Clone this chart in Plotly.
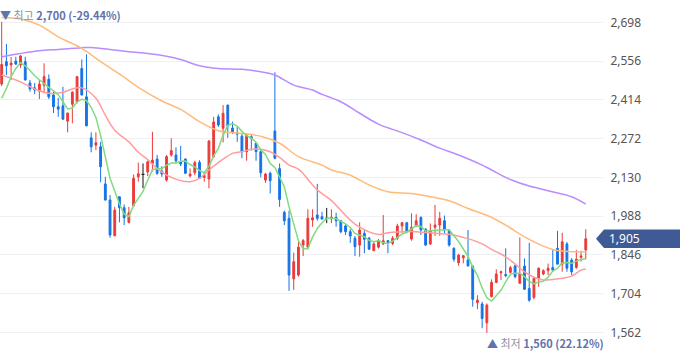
import plotly.graph_objects as go
import pandas as pd

# ---------------- data ----------------
opens = [2472, 2554, 2542, 2556, 2542, 2554, 2476, 2458, 2446, 2468,
         2490, 2432, 2389, 2392, 2336, 2398, 2407, 2529, 2425, 2275,
         2248, 2242, 2106, 2047, 1916, 2059, 2019, 1965, 2026, 2132,
         2141, 2150, 2181, 2197, 2153, 2120, 2212, 2212, 2186, 2197,
         2135, 2147, 2185, 2130, 2124, 2206, 2352, 2310, 2395, 2311,
         2293, 2281, 2224, 2279, 2255, 2224, 2120, 2145, 2300, 2162,
         2002, 1980, 1758, 1772, 1882, 1874, 1974, 1992, 1986, 1980,
         1978, 1983, 1971, 1952, 1931, 1907, 1882, 1925, 1907, 1861,
         1874, 1886, 1898, 1888, 1907, 1952, 1964, 1904, 1952, 1983,
         1940, 1886, 1947, 1955, 1971, 1934, 1870, 1817, 1835, 1827,
         1805, 1671, 1666, 1597, 1693, 1745, 1780, 1774, 1782, 1806,
         1742, 1805, 1723, 1690, 1760, 1776, 1788, 1800, 1870, 1812,
         1886, 1827, 1800, 1837, 1864]
highs = [2700, 2619, 2571, 2572, 2578, 2572, 2487, 2476, 2487, 2548,
         2507, 2446, 2421, 2462, 2366, 2446, 2502, 2562, 2581, 2295,
         2295, 2260, 2132, 2065, 2022, 2060, 2031, 2022, 2141, 2184,
         2181, 2191, 2297, 2212, 2171, 2212, 2273, 2240, 2245, 2200,
         2163, 2191, 2193, 2147, 2267, 2352, 2361, 2395, 2396, 2334,
         2315, 2289, 2289, 2289, 2257, 2233, 2147, 2151, 2515, 2181,
         2008, 2008, 1854, 1894, 1904, 2013, 2013, 2106, 2004, 2018,
         2013, 2000, 1974, 1958, 1940, 1915, 1965, 1937, 1912, 1893,
         1904, 1992, 1900, 1915, 1960, 1967, 1967, 1998, 1995, 1987,
         1944, 1961, 2029, 2004, 1990, 1940, 1874, 1850, 1845, 1937,
         1805, 1698, 1674, 1668, 1756, 1793, 1788, 1870, 1805, 1810,
         1910, 1833, 1890, 1764, 1800, 1793, 1814, 1864, 1934, 1927,
         1893, 1834, 1864, 1861, 1940]
lows = [2465, 2505, 2487, 2542, 2531, 2485, 2444, 2435, 2417, 2439,
        2417, 2366, 2352, 2342, 2295, 2328, 2401, 2430, 2317, 2222,
        2230, 2112, 2045, 1909, 1914, 1965, 1955, 1961, 2024, 2114,
        2090, 2135, 2151, 2139, 2132, 2114, 2206, 2181, 2171, 2142,
        2130, 2138, 2124, 2114, 2090, 2200, 2315, 2258, 2275, 2289,
        2260, 2200, 2191, 2228, 2191, 2130, 2110, 2071, 2196, 2022,
        1955, 1714, 1717, 1766, 1842, 1866, 1949, 1971, 1976, 1962,
        1962, 1949, 1925, 1919, 1890, 1842, 1839, 1852, 1864, 1860,
        1869, 1882, 1852, 1882, 1900, 1927, 1925, 1898, 1949, 1919,
        1878, 1882, 1915, 1916, 1925, 1876, 1821, 1806, 1815, 1805,
        1656, 1647, 1577, 1560, 1690, 1742, 1754, 1764, 1778, 1760,
        1739, 1717, 1674, 1683, 1729, 1771, 1772, 1784, 1812, 1784,
        1784, 1772, 1795, 1821, 1830]
closes = [2544, 2539, 2549, 2545, 2575, 2487, 2454, 2450, 2472, 2499,
          2425, 2389, 2380, 2343, 2366, 2442, 2499, 2432, 2319, 2242,
          2257, 2169, 2047, 1919, 2010, 2019, 1982, 2000, 2126, 2143,
          2141, 2187, 2193, 2145, 2142, 2206, 2228, 2191, 2179, 2145,
          2142, 2184, 2126, 2137, 2263, 2333, 2322, 2365, 2318, 2297,
          2289, 2224, 2285, 2273, 2224, 2147, 2142, 2118, 2200, 2049,
          1971, 1772, 1821, 1874, 1898, 1980, 1982, 1980, 1977, 1980,
          1984, 1971, 1931, 1931, 1915, 1876, 1937, 1903, 1867, 1886,
          1898, 1898, 1891, 1907, 1952, 1964, 1931, 1947, 1971, 1937,
          1882, 1934, 1955, 1980, 1937, 1882, 1830, 1845, 1843, 1805,
          1683, 1680, 1613, 1662, 1745, 1776, 1784, 1770, 1799, 1766,
          1776, 1720, 1680, 1760, 1797, 1788, 1797, 1790, 1812, 1894,
          1797, 1784, 1830, 1842, 1905]

# 5-day average: first values (earlier closes not shown)
ma5_head = [2420, 2456, 2499, 2529]

# 20-day average
ma20_x = [0, 4, 7, 10, 13, 15, 17, 20, 22, 24, 27, 29, 31, 33, 35, 38, 40, 42,
          44, 47, 49, 51, 53, 55, 57, 59, 61, 63, 67, 70, 75, 80, 82, 84, 88,
          92, 94, 96, 98, 100, 102, 104, 107, 109, 111, 113, 115, 117, 119,
          121, 123, 124]
ma20_v = [2505, 2480, 2454, 2438, 2442, 2454, 2458, 2420, 2358, 2303, 2260,
          2222, 2195, 2163, 2138, 2118, 2114, 2126, 2157, 2197, 2218, 2224,
          2233, 2233, 2224, 2203, 2175, 2160, 2084, 2045, 1959, 1921, 1927,
          1930, 1931, 1925, 1922, 1919, 1910, 1900, 1886, 1866, 1839, 1812,
          1784, 1764, 1754, 1756, 1760, 1768, 1790, 1794]

# 60-day average
ma60_x = [0, 4, 8, 12, 17, 21, 25, 29, 34, 38, 42, 46, 51, 55, 59, 63, 68, 70,
          74, 78, 82, 87, 91, 95, 99, 104, 107, 111, 113, 115, 117, 119, 122, 124]
ma60_v = [2716, 2710, 2688, 2645, 2603, 2554, 2509, 2460, 2410, 2379, 2334,
          2301, 2291, 2281, 2255, 2206, 2175, 2157, 2138, 2102, 2077, 2071,
          2059, 2044, 2016, 1983, 1955, 1912, 1894, 1878, 1866, 1860, 1857, 1857]

# 120-day average
ma120_x = [0, 4, 8, 12, 17, 19, 23, 27, 31, 35, 38, 42, 46, 51, 55, 58, 62, 66,
           68, 72, 76, 80, 85, 89, 93, 97, 102, 104, 108, 112, 116, 121, 124]
ma120_v = [2572, 2584, 2594, 2599, 2605, 2606, 2599, 2590, 2584, 2574, 2562,
           2539, 2529, 2526, 2517, 2505, 2468, 2450, 2434, 2407, 2365, 2325,
           2294, 2267, 2237, 2212, 2175, 2157, 2122, 2098, 2081, 2059, 2032]

y_ticks = [1562, 1704, 1846, 1988, 2130, 2272, 2414, 2556, 2698]
last_price = 1905
high_text = ("최고", "2,700 (-29.44%)")
low_text = ("최저", "1,560 (22.12%)")

# ---------------- styling ----------------
RED = "#eb3a3a"
BLUE = "#1573e6"
GREEN = "#7fdc7f"
PINK = "#ff9d9d"
ORANGE = "#ffbb7a"
PURPLE = "#b98cff"
LABEL_BLUE = "#5f73ad"
BOX_BLUE = "#405a96"
X_RANGE = [-0.36, 127.66]
Y_RANGE = [1468, 2780]
W, H = 680, 358
PLOT_W = 603

n = len(closes)
idx = list(range(n))
is_doji = [opens[i] == closes[i] for i in idx]


def keep(arr):
    return [None if is_doji[i] else arr[i] for i in idx]


ma5 = pd.Series(closes, dtype=float).rolling(5).mean().tolist()
ma5[:len(ma5_head)] = ma5_head

fig = go.Figure()

fig.add_trace(go.Candlestick(
    x=idx, open=keep(opens), high=keep(highs), low=keep(lows), close=keep(closes),
    increasing=dict(line=dict(color=RED, width=1), fillcolor=RED),
    decreasing=dict(line=dict(color=BLUE, width=1), fillcolor=BLUE),
    whiskerwidth=0, showlegend=False, hoverinfo="skip",
))

# doji candles (open == close) drawn in black
dx, dy = [], []
for i in idx:
    if is_doji[i]:
        dx += [i, i, None, i - 0.33, i + 0.33, None]
        dy += [lows[i], highs[i], None, closes[i], closes[i], None]
fig.add_trace(go.Scatter(x=dx, y=dy, mode="lines",
                         line=dict(color="#111111", width=1),
                         showlegend=False, hoverinfo="skip"))

fig.add_trace(go.Scatter(x=ma120_x, y=ma120_v, mode="lines",
                         line=dict(color=PURPLE, width=1.5, shape="spline"),
                         showlegend=False, hoverinfo="skip"))
fig.add_trace(go.Scatter(x=ma60_x, y=ma60_v, mode="lines",
                         line=dict(color=ORANGE, width=1.5, shape="spline"),
                         showlegend=False, hoverinfo="skip"))
fig.add_trace(go.Scatter(x=ma20_x, y=ma20_v, mode="lines",
                         line=dict(color=PINK, width=1.5, shape="spline"),
                         showlegend=False, hoverinfo="skip"))
fig.add_trace(go.Scatter(x=idx, y=ma5, mode="lines",
                         line=dict(color=GREEN, width=1.5),
                         showlegend=False, hoverinfo="skip"))

fig.update_layout(
    width=W, height=H,
    margin=dict(l=0, r=W - PLOT_W, t=0, b=0),
    paper_bgcolor="white", plot_bgcolor="white",
    boxgap=0.45,
    hovermode=False,
    xaxis=dict(range=X_RANGE, visible=False, showgrid=False,
               rangeslider=dict(visible=False), fixedrange=True),
    yaxis=dict(range=Y_RANGE, side="right", tickvals=y_ticks,
               ticktext=[f"{v:,}" for v in y_ticks],
               showgrid=True, gridcolor="#eef0f3", gridwidth=1,
               zeroline=False, showline=False, fixedrange=True,
               ticks="outside", ticklen=4, tickcolor="rgba(0,0,0,0)",
               tickfont=dict(family="Noto Sans, Noto Sans CJK KR", size=12,
                             color="#555555")),
    font=dict(family="Noto Sans CJK KR, Noto Sans"),
)

# current price tag
yp = (last_price - Y_RANGE[0]) / (Y_RANGE[1] - Y_RANGE[0])
half = 9.2 / H
tip = 596 / PLOT_W
left = 604 / PLOT_W
right = W / PLOT_W + 0.01
fig.add_shape(type="path", xref="paper", yref="paper",
              path=(f"M {tip} {yp} L {left} {yp + half} L {right} {yp + half} "
                    f"L {right} {yp - half} L {left} {yp - half} Z"),
              fillcolor=BOX_BLUE, line=dict(width=0), layer="above")
fig.add_annotation(xref="paper", yref="paper", x=607 / PLOT_W, y=yp,
                   xanchor="left", yanchor="middle", showarrow=False,
                   text=f"{last_price:,}",
                   font=dict(family="Noto Sans, Noto Sans CJK KR", size=12,
                             color="white"))

# highest / lowest markers
fig.add_annotation(xref="paper", yref="paper", x=-0.004, y=1 - 15 / H,
                   xanchor="left", yanchor="middle", showarrow=False,
                   text=(f"<span style='color:{LABEL_BLUE}'>▼</span> "
                         f"<span style='color:#8a90a6'>{high_text[0]}</span> "
                         f"<b>{high_text[1]}</b>"),
                   font=dict(family="Noto Sans CJK KR", size=11, color=LABEL_BLUE))
fig.add_annotation(xref="paper", yref="paper", x=485 / PLOT_W, y=1 - 343 / H,
                   xanchor="left", yanchor="middle", showarrow=False,
                   text=(f"<span style='color:{LABEL_BLUE}'>▲</span> "
                         f"<span style='color:#8a90a6'>{low_text[0]}</span> "
                         f"<b>{low_text[1]}</b>"),
                   font=dict(family="Noto Sans CJK KR", size=11, color=LABEL_BLUE))

fig.write_html("out.html",
               config={"displayModeBar": False, "staticPlot": True},
               post_script="document.body.style.margin='0';"
                           "document.body.style.overflow='hidden';")
